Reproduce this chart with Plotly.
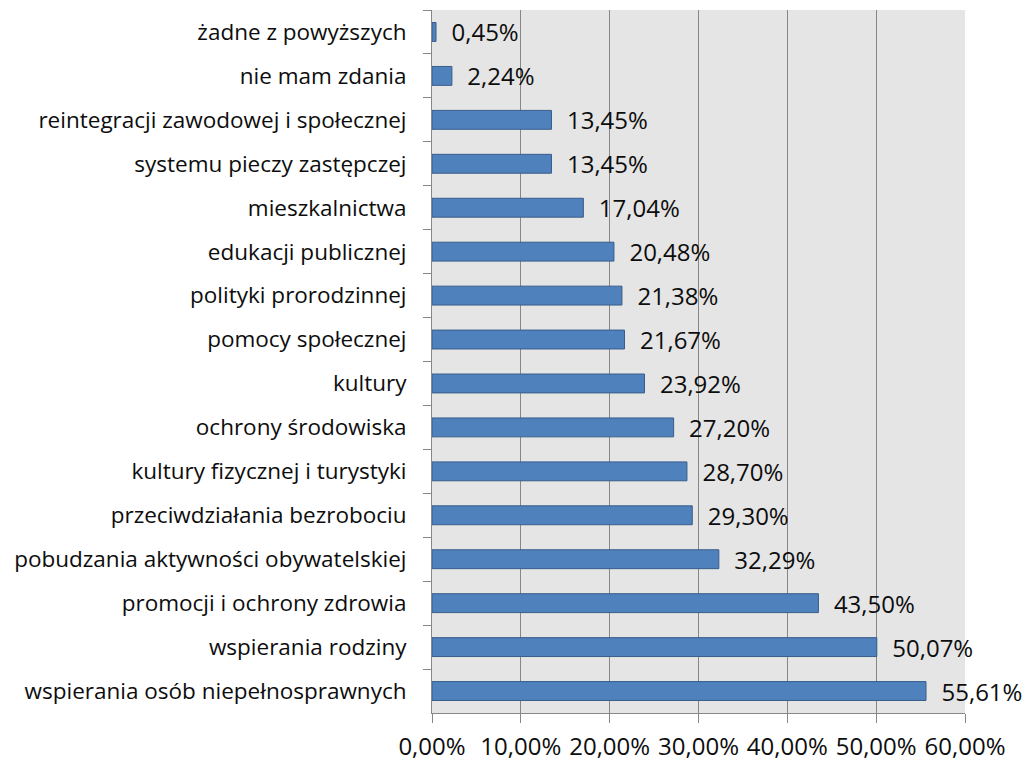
import plotly.graph_objects as go

categories = [
    "żadne z powyższych",
    "nie mam zdania",
    "reintegracji zawodowej i społecznej",
    "systemu pieczy zastępczej",
    "mieszkalnictwa",
    "edukacji publicznej",
    "polityki prorodzinnej",
    "pomocy społecznej",
    "kultury",
    "ochrony środowiska",
    "kultury fizycznej i turystyki",
    "przeciwdziałania bezrobociu",
    "pobudzania aktywności obywatelskiej",
    "promocji i ochrony zdrowia",
    "wspierania rodziny",
    "wspierania osób niepełnosprawnych",
]
values = [0.45, 2.24, 13.45, 13.45, 17.04, 20.48, 21.38, 21.67, 23.92,
          27.20, 28.70, 29.30, 32.29, 43.50, 50.07, 55.61]
x_ticks = [0, 10, 20, 30, 40, 50, 60]
x_tick_labels = ["0,00%", "10,00%", "20,00%", "30,00%", "40,00%", "50,00%", "60,00%"]

labels = ["  " + f"{v:.2f}".replace(".", ",") + "%" for v in values]

fig = go.Figure(go.Bar(
    x=values, y=categories, orientation="h",
    marker=dict(color="#4f81bd", line=dict(color="#385d8a", width=1)),
    text=labels, textposition="outside", cliponaxis=False,
    constraintext="none",
    textfont=dict(family="Open Sans", size=24, color="#0d0d0d"),
    width=0.43,
))

fig.update_layout(
    width=1029, height=765,
    margin=dict(l=432, r=64, t=10, b=52, autoexpand=False),
    paper_bgcolor="white", plot_bgcolor="#e5e5e5",
    font=dict(family="Open Sans", color="#0d0d0d"),
    showlegend=False,
    xaxis=dict(
        range=[0, 60], tickvals=x_ticks, ticktext=x_tick_labels,
        showgrid=True, gridcolor="#878787", gridwidth=1,
        showline=True, linecolor="#878787", linewidth=1,
        ticks="outside", ticklen=9, tickcolor="#878787",
        tickfont=dict(size=24), zeroline=False, fixedrange=True,
        ticklabelstandoff=3,
    ),
    yaxis=dict(
        categoryorder="array", categoryarray=categories,
        autorange="reversed",
        showline=True, linecolor="#878787", linewidth=1,
        ticks="outside", ticklen=8, tickcolor="#878787", tickson="boundaries",
        tickfont=dict(size=22.5), showgrid=False, ticklabelstandoff=20,
    ),
)

fig.write_html("out.html", config={"displayModeBar": False},
               post_script="document.body.style.margin='0';")
